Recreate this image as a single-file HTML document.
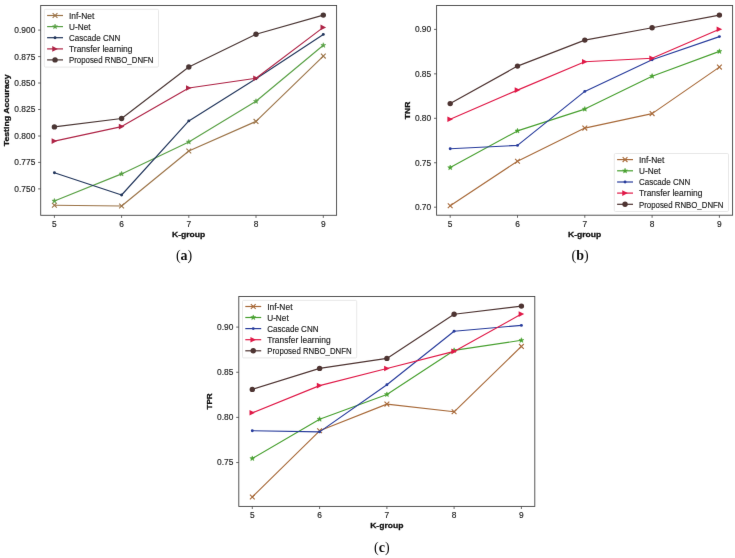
<!DOCTYPE html>
<html><head><meta charset="utf-8"><title>Figure</title>
<style>
html,body{margin:0;padding:0;background:#fff;width:735px;height:558px;overflow:hidden;}
svg{display:block;}
.tk{font-family:"Liberation Sans",sans-serif;font-size:8.4px;fill:#222;stroke:#222;stroke-width:0.15px;}
.lg{font-family:"Liberation Sans",sans-serif;font-size:8.8px;fill:#222;stroke:#222;stroke-width:0.15px;}
.lb{font-family:"Liberation Sans",sans-serif;font-size:8.0px;font-weight:bold;fill:#111;stroke:#111;stroke-width:0.3px;}
.cap{font-family:"Liberation Serif",serif;font-size:14px;fill:#111;}
</style></head><body>
<svg width="735" height="558" viewBox="0 0 735 558">
<defs><filter id="bl" x="0" y="0" width="735" height="558" filterUnits="userSpaceOnUse" color-interpolation-filters="sRGB"><feConvolveMatrix order="3" kernelMatrix="0.0035 0.0587 0.0035 0.0587 1.0000 0.0587 0.0035 0.0587 0.0035" edgeMode="duplicate" preserveAlpha="true"/></filter></defs>
<g filter="url(#bl)"><rect width="735" height="558" fill="#fff"/>
<g><polyline points="54.40,205.30 121.60,206.00 188.80,151.00 256.00,121.40 323.30,56.10" fill="none" stroke="#9c7448" stroke-width="1.15" stroke-linejoin="round"/><path d="M52.00 202.90L56.80 207.70M52.00 207.70L56.80 202.90" stroke="#9c7448" stroke-width="1.1" fill="none"/><path d="M119.20 203.60L124.00 208.40M119.20 208.40L124.00 203.60" stroke="#9c7448" stroke-width="1.1" fill="none"/><path d="M186.40 148.60L191.20 153.40M186.40 153.40L191.20 148.60" stroke="#9c7448" stroke-width="1.1" fill="none"/><path d="M253.60 119.00L258.40 123.80M253.60 123.80L258.40 119.00" stroke="#9c7448" stroke-width="1.1" fill="none"/><path d="M320.90 53.70L325.70 58.50M320.90 58.50L325.70 53.70" stroke="#9c7448" stroke-width="1.1" fill="none"/><polyline points="54.40,201.00 121.60,173.90 188.80,142.00 256.00,101.30 323.30,45.30" fill="none" stroke="#58a044" stroke-width="1.15" stroke-linejoin="round"/><polygon points="54.40,198.40 55.05,200.11 56.87,200.20 55.45,201.34 55.93,203.10 54.40,202.10 52.87,203.10 53.35,201.34 51.93,200.20 53.75,200.11" fill="#58a044" stroke="#58a044" stroke-width="0.5"/><polygon points="121.60,171.30 122.25,173.01 124.07,173.10 122.65,174.24 123.13,176.00 121.60,175.00 120.07,176.00 120.55,174.24 119.13,173.10 120.95,173.01" fill="#58a044" stroke="#58a044" stroke-width="0.5"/><polygon points="188.80,139.40 189.45,141.11 191.27,141.20 189.85,142.34 190.33,144.10 188.80,143.10 187.27,144.10 187.75,142.34 186.33,141.20 188.15,141.11" fill="#58a044" stroke="#58a044" stroke-width="0.5"/><polygon points="256.00,98.70 256.65,100.41 258.47,100.50 257.05,101.64 257.53,103.40 256.00,102.40 254.47,103.40 254.95,101.64 253.53,100.50 255.35,100.41" fill="#58a044" stroke="#58a044" stroke-width="0.5"/><polygon points="323.30,42.70 323.95,44.41 325.77,44.50 324.35,45.64 324.83,47.40 323.30,46.40 321.77,47.40 322.25,45.64 320.83,44.50 322.65,44.41" fill="#58a044" stroke="#58a044" stroke-width="0.5"/><polyline points="54.40,172.70 121.60,195.00 188.80,120.90 256.00,78.70 323.30,34.40" fill="none" stroke="#22365c" stroke-width="1.15" stroke-linejoin="round"/><circle cx="54.40" cy="172.70" r="1.45" fill="#22365c"/><circle cx="121.60" cy="195.00" r="1.45" fill="#22365c"/><circle cx="188.80" cy="120.90" r="1.45" fill="#22365c"/><circle cx="256.00" cy="78.70" r="1.45" fill="#22365c"/><circle cx="323.30" cy="34.40" r="1.45" fill="#22365c"/><polyline points="54.40,141.10 121.60,126.60 188.80,88.00 256.00,78.30 323.30,27.40" fill="none" stroke="#ae2446" stroke-width="1.15" stroke-linejoin="round"/><polygon points="57.20,141.10 51.60,138.30 51.60,143.90" fill="#ae2446"/><polygon points="124.40,126.60 118.80,123.80 118.80,129.40" fill="#ae2446"/><polygon points="191.60,88.00 186.00,85.20 186.00,90.80" fill="#ae2446"/><polygon points="258.80,78.30 253.20,75.50 253.20,81.10" fill="#ae2446"/><polygon points="326.10,27.40 320.50,24.60 320.50,30.20" fill="#ae2446"/><polyline points="54.40,126.90 121.60,118.50 188.80,67.00 256.00,34.20 323.30,15.10" fill="none" stroke="#4a3634" stroke-width="1.15" stroke-linejoin="round"/><circle cx="54.40" cy="126.90" r="2.7" fill="#4a3634"/><circle cx="121.60" cy="118.50" r="2.7" fill="#4a3634"/><circle cx="188.80" cy="67.00" r="2.7" fill="#4a3634"/><circle cx="256.00" cy="34.20" r="2.7" fill="#4a3634"/><circle cx="323.30" cy="15.10" r="2.7" fill="#4a3634"/><rect x="40.70" y="5.50" width="295.90" height="209.80" fill="none" stroke="#444" stroke-width="0.9"/><line x1="54.40" y1="215.30" x2="54.40" y2="217.90" stroke="#444" stroke-width="0.8"/><text x="54.40" y="226.50" class="tk" text-anchor="middle">5</text><line x1="121.60" y1="215.30" x2="121.60" y2="217.90" stroke="#444" stroke-width="0.8"/><text x="121.60" y="226.50" class="tk" text-anchor="middle">6</text><line x1="188.80" y1="215.30" x2="188.80" y2="217.90" stroke="#444" stroke-width="0.8"/><text x="188.80" y="226.50" class="tk" text-anchor="middle">7</text><line x1="256.00" y1="215.30" x2="256.00" y2="217.90" stroke="#444" stroke-width="0.8"/><text x="256.00" y="226.50" class="tk" text-anchor="middle">8</text><line x1="323.30" y1="215.30" x2="323.30" y2="217.90" stroke="#444" stroke-width="0.8"/><text x="323.30" y="226.50" class="tk" text-anchor="middle">9</text><line x1="38.10" y1="30.10" x2="40.70" y2="30.10" stroke="#444" stroke-width="0.8"/><text x="35.30" y="33.00" class="tk" text-anchor="end">0.900</text><line x1="38.10" y1="56.60" x2="40.70" y2="56.60" stroke="#444" stroke-width="0.8"/><text x="35.30" y="59.50" class="tk" text-anchor="end">0.875</text><line x1="38.10" y1="83.00" x2="40.70" y2="83.00" stroke="#444" stroke-width="0.8"/><text x="35.30" y="85.90" class="tk" text-anchor="end">0.850</text><line x1="38.10" y1="109.50" x2="40.70" y2="109.50" stroke="#444" stroke-width="0.8"/><text x="35.30" y="112.40" class="tk" text-anchor="end">0.825</text><line x1="38.10" y1="136.00" x2="40.70" y2="136.00" stroke="#444" stroke-width="0.8"/><text x="35.30" y="138.90" class="tk" text-anchor="end">0.800</text><line x1="38.10" y1="162.40" x2="40.70" y2="162.40" stroke="#444" stroke-width="0.8"/><text x="35.30" y="165.30" class="tk" text-anchor="end">0.775</text><line x1="38.10" y1="188.90" x2="40.70" y2="188.90" stroke="#444" stroke-width="0.8"/><text x="35.30" y="191.80" class="tk" text-anchor="end">0.750</text><text x="188.65" y="236.70" class="lb" text-anchor="middle" textLength="33.2" lengthAdjust="spacingAndGlyphs">K-group</text><text transform="translate(8.80,110.40) rotate(-90)" class="lb" text-anchor="middle" textLength="71.8" lengthAdjust="spacingAndGlyphs">Testing Accuracy</text><rect x="44.30" y="9.30" width="114.20" height="57.80" rx="1.2" fill="#fff" fill-opacity="0.8" stroke="#e2e2e2" stroke-width="0.8"/><line x1="47.10" y1="15.50" x2="63.00" y2="15.50" stroke="#9c7448" stroke-width="1.2"/><path d="M52.65 13.10L57.45 17.90M52.65 17.90L57.45 13.10" stroke="#9c7448" stroke-width="1.1" fill="none"/><text x="69.00" y="18.80" class="lg" textLength="25.30" lengthAdjust="spacingAndGlyphs">Inf-Net</text><line x1="47.10" y1="26.60" x2="63.00" y2="26.60" stroke="#58a044" stroke-width="1.2"/><polygon points="55.05,24.00 55.70,25.71 57.52,25.80 56.10,26.94 56.58,28.70 55.05,27.70 53.52,28.70 54.00,26.94 52.58,25.80 54.40,25.71" fill="#58a044" stroke="#58a044" stroke-width="0.5"/><text x="69.00" y="29.90" class="lg" textLength="21.50" lengthAdjust="spacingAndGlyphs">U-Net</text><line x1="47.10" y1="37.70" x2="63.00" y2="37.70" stroke="#22365c" stroke-width="1.2"/><circle cx="55.05" cy="37.70" r="1.45" fill="#22365c"/><text x="69.00" y="41.00" class="lg" textLength="51.30" lengthAdjust="spacingAndGlyphs">Cascade CNN</text><line x1="47.10" y1="48.90" x2="63.00" y2="48.90" stroke="#ae2446" stroke-width="1.2"/><polygon points="57.85,48.90 52.25,46.10 52.25,51.70" fill="#ae2446"/><text x="69.00" y="52.20" class="lg" textLength="63.40" lengthAdjust="spacingAndGlyphs">Transfer learning</text><line x1="47.10" y1="59.90" x2="63.00" y2="59.90" stroke="#4a3634" stroke-width="1.2"/><circle cx="55.05" cy="59.90" r="2.7" fill="#4a3634"/><text x="69.00" y="63.20" class="lg" textLength="84.50" lengthAdjust="spacingAndGlyphs">Proposed RNBO_DNFN</text><text x="184.10" y="259.80" class="cap" text-anchor="middle">(<tspan font-weight="bold">a</tspan>)</text></g>
<g><polyline points="450.20,205.80 517.50,161.20 584.80,128.10 652.10,113.60 719.40,67.10" fill="none" stroke="#a86a3a" stroke-width="1.15" stroke-linejoin="round"/><path d="M447.80 203.40L452.60 208.20M447.80 208.20L452.60 203.40" stroke="#a86a3a" stroke-width="1.1" fill="none"/><path d="M515.10 158.80L519.90 163.60M515.10 163.60L519.90 158.80" stroke="#a86a3a" stroke-width="1.1" fill="none"/><path d="M582.40 125.70L587.20 130.50M582.40 130.50L587.20 125.70" stroke="#a86a3a" stroke-width="1.1" fill="none"/><path d="M649.70 111.20L654.50 116.00M649.70 116.00L654.50 111.20" stroke="#a86a3a" stroke-width="1.1" fill="none"/><path d="M717.00 64.70L721.80 69.50M717.00 69.50L721.80 64.70" stroke="#a86a3a" stroke-width="1.1" fill="none"/><polyline points="450.20,167.60 517.50,130.90 584.80,109.10 652.10,76.20 719.40,51.40" fill="none" stroke="#48a030" stroke-width="1.15" stroke-linejoin="round"/><polygon points="450.20,165.00 450.85,166.71 452.67,166.80 451.25,167.94 451.73,169.70 450.20,168.70 448.67,169.70 449.15,167.94 447.73,166.80 449.55,166.71" fill="#48a030" stroke="#48a030" stroke-width="0.5"/><polygon points="517.50,128.30 518.15,130.01 519.97,130.10 518.55,131.24 519.03,133.00 517.50,132.00 515.97,133.00 516.45,131.24 515.03,130.10 516.85,130.01" fill="#48a030" stroke="#48a030" stroke-width="0.5"/><polygon points="584.80,106.50 585.45,108.21 587.27,108.30 585.85,109.44 586.33,111.20 584.80,110.20 583.27,111.20 583.75,109.44 582.33,108.30 584.15,108.21" fill="#48a030" stroke="#48a030" stroke-width="0.5"/><polygon points="652.10,73.60 652.75,75.31 654.57,75.40 653.15,76.54 653.63,78.30 652.10,77.30 650.57,78.30 651.05,76.54 649.63,75.40 651.45,75.31" fill="#48a030" stroke="#48a030" stroke-width="0.5"/><polygon points="719.40,48.80 720.05,50.51 721.87,50.60 720.45,51.74 720.93,53.50 719.40,52.50 717.87,53.50 718.35,51.74 716.93,50.60 718.75,50.51" fill="#48a030" stroke="#48a030" stroke-width="0.5"/><polyline points="450.20,148.80 517.50,145.40 584.80,91.40 652.10,59.70 719.40,36.60" fill="none" stroke="#283c9c" stroke-width="1.15" stroke-linejoin="round"/><circle cx="450.20" cy="148.80" r="1.45" fill="#283c9c"/><circle cx="517.50" cy="145.40" r="1.45" fill="#283c9c"/><circle cx="584.80" cy="91.40" r="1.45" fill="#283c9c"/><circle cx="652.10" cy="59.70" r="1.45" fill="#283c9c"/><circle cx="719.40" cy="36.60" r="1.45" fill="#283c9c"/><polyline points="450.20,119.30 517.50,90.10 584.80,61.70 652.10,58.30 719.40,29.20" fill="none" stroke="#e01a48" stroke-width="1.15" stroke-linejoin="round"/><polygon points="453.00,119.30 447.40,116.50 447.40,122.10" fill="#e01a48"/><polygon points="520.30,90.10 514.70,87.30 514.70,92.90" fill="#e01a48"/><polygon points="587.60,61.70 582.00,58.90 582.00,64.50" fill="#e01a48"/><polygon points="654.90,58.30 649.30,55.50 649.30,61.10" fill="#e01a48"/><polygon points="722.20,29.20 716.60,26.40 716.60,32.00" fill="#e01a48"/><polyline points="450.20,103.60 517.50,66.10 584.80,40.10 652.10,27.80 719.40,15.10" fill="none" stroke="#4e3432" stroke-width="1.15" stroke-linejoin="round"/><circle cx="450.20" cy="103.60" r="2.7" fill="#4e3432"/><circle cx="517.50" cy="66.10" r="2.7" fill="#4e3432"/><circle cx="584.80" cy="40.10" r="2.7" fill="#4e3432"/><circle cx="652.10" cy="27.80" r="2.7" fill="#4e3432"/><circle cx="719.40" cy="15.10" r="2.7" fill="#4e3432"/><rect x="436.60" y="5.50" width="296.00" height="209.70" fill="none" stroke="#444" stroke-width="0.9"/><line x1="450.20" y1="215.20" x2="450.20" y2="217.80" stroke="#444" stroke-width="0.8"/><text x="450.20" y="226.50" class="tk" text-anchor="middle">5</text><line x1="517.50" y1="215.20" x2="517.50" y2="217.80" stroke="#444" stroke-width="0.8"/><text x="517.50" y="226.50" class="tk" text-anchor="middle">6</text><line x1="584.80" y1="215.20" x2="584.80" y2="217.80" stroke="#444" stroke-width="0.8"/><text x="584.80" y="226.50" class="tk" text-anchor="middle">7</text><line x1="652.10" y1="215.20" x2="652.10" y2="217.80" stroke="#444" stroke-width="0.8"/><text x="652.10" y="226.50" class="tk" text-anchor="middle">8</text><line x1="719.40" y1="215.20" x2="719.40" y2="217.80" stroke="#444" stroke-width="0.8"/><text x="719.40" y="226.50" class="tk" text-anchor="middle">9</text><line x1="434.00" y1="29.40" x2="436.60" y2="29.40" stroke="#444" stroke-width="0.8"/><text x="431.20" y="32.30" class="tk" text-anchor="end">0.90</text><line x1="434.00" y1="73.85" x2="436.60" y2="73.85" stroke="#444" stroke-width="0.8"/><text x="431.20" y="76.75" class="tk" text-anchor="end">0.85</text><line x1="434.00" y1="118.30" x2="436.60" y2="118.30" stroke="#444" stroke-width="0.8"/><text x="431.20" y="121.20" class="tk" text-anchor="end">0.80</text><line x1="434.00" y1="162.75" x2="436.60" y2="162.75" stroke="#444" stroke-width="0.8"/><text x="431.20" y="165.65" class="tk" text-anchor="end">0.75</text><line x1="434.00" y1="207.20" x2="436.60" y2="207.20" stroke="#444" stroke-width="0.8"/><text x="431.20" y="210.10" class="tk" text-anchor="end">0.70</text><text x="584.60" y="236.90" class="lb" text-anchor="middle" textLength="33.2" lengthAdjust="spacingAndGlyphs">K-group</text><text transform="translate(410.20,110.35) rotate(-90)" class="lb" text-anchor="middle" textLength="17.6" lengthAdjust="spacingAndGlyphs">TNR</text><rect x="614.30" y="153.50" width="114.20" height="58.00" rx="1.2" fill="#fff" fill-opacity="0.8" stroke="#e2e2e2" stroke-width="0.8"/><line x1="617.10" y1="159.60" x2="633.00" y2="159.60" stroke="#a86a3a" stroke-width="1.2"/><path d="M622.65 157.20L627.45 162.00M622.65 162.00L627.45 157.20" stroke="#a86a3a" stroke-width="1.1" fill="none"/><text x="639.00" y="162.90" class="lg" textLength="25.30" lengthAdjust="spacingAndGlyphs">Inf-Net</text><line x1="617.10" y1="170.80" x2="633.00" y2="170.80" stroke="#48a030" stroke-width="1.2"/><polygon points="625.05,168.20 625.70,169.91 627.52,170.00 626.10,171.14 626.58,172.90 625.05,171.90 623.52,172.90 624.00,171.14 622.58,170.00 624.40,169.91" fill="#48a030" stroke="#48a030" stroke-width="0.5"/><text x="639.00" y="174.10" class="lg" textLength="21.50" lengthAdjust="spacingAndGlyphs">U-Net</text><line x1="617.10" y1="182.00" x2="633.00" y2="182.00" stroke="#283c9c" stroke-width="1.2"/><circle cx="625.05" cy="182.00" r="1.45" fill="#283c9c"/><text x="639.00" y="185.30" class="lg" textLength="51.30" lengthAdjust="spacingAndGlyphs">Cascade CNN</text><line x1="617.10" y1="193.10" x2="633.00" y2="193.10" stroke="#e01a48" stroke-width="1.2"/><polygon points="627.85,193.10 622.25,190.30 622.25,195.90" fill="#e01a48"/><text x="639.00" y="196.40" class="lg" textLength="63.40" lengthAdjust="spacingAndGlyphs">Transfer learning</text><line x1="617.10" y1="204.30" x2="633.00" y2="204.30" stroke="#4e3432" stroke-width="1.2"/><circle cx="625.05" cy="204.30" r="2.7" fill="#4e3432"/><text x="639.00" y="207.60" class="lg" textLength="84.50" lengthAdjust="spacingAndGlyphs">Proposed RNBO_DNFN</text><text x="580.10" y="260.00" class="cap" text-anchor="middle">(<tspan font-weight="bold">b</tspan>)</text></g>
<g><polyline points="252.30,497.00 319.60,430.80 386.90,404.10 454.10,411.80 521.40,346.40" fill="none" stroke="#a86a3a" stroke-width="1.15" stroke-linejoin="round"/><path d="M249.90 494.60L254.70 499.40M249.90 499.40L254.70 494.60" stroke="#a86a3a" stroke-width="1.1" fill="none"/><path d="M317.20 428.40L322.00 433.20M317.20 433.20L322.00 428.40" stroke="#a86a3a" stroke-width="1.1" fill="none"/><path d="M384.50 401.70L389.30 406.50M384.50 406.50L389.30 401.70" stroke="#a86a3a" stroke-width="1.1" fill="none"/><path d="M451.70 409.40L456.50 414.20M451.70 414.20L456.50 409.40" stroke="#a86a3a" stroke-width="1.1" fill="none"/><path d="M519.00 344.00L523.80 348.80M519.00 348.80L523.80 344.00" stroke="#a86a3a" stroke-width="1.1" fill="none"/><polyline points="252.30,458.50 319.60,419.20 386.90,394.50 454.10,350.40 521.40,340.30" fill="none" stroke="#48a030" stroke-width="1.15" stroke-linejoin="round"/><polygon points="252.30,455.90 252.95,457.61 254.77,457.70 253.35,458.84 253.83,460.60 252.30,459.60 250.77,460.60 251.25,458.84 249.83,457.70 251.65,457.61" fill="#48a030" stroke="#48a030" stroke-width="0.5"/><polygon points="319.60,416.60 320.25,418.31 322.07,418.40 320.65,419.54 321.13,421.30 319.60,420.30 318.07,421.30 318.55,419.54 317.13,418.40 318.95,418.31" fill="#48a030" stroke="#48a030" stroke-width="0.5"/><polygon points="386.90,391.90 387.55,393.61 389.37,393.70 387.95,394.84 388.43,396.60 386.90,395.60 385.37,396.60 385.85,394.84 384.43,393.70 386.25,393.61" fill="#48a030" stroke="#48a030" stroke-width="0.5"/><polygon points="454.10,347.80 454.75,349.51 456.57,349.60 455.15,350.74 455.63,352.50 454.10,351.50 452.57,352.50 453.05,350.74 451.63,349.60 453.45,349.51" fill="#48a030" stroke="#48a030" stroke-width="0.5"/><polygon points="521.40,337.70 522.05,339.41 523.87,339.50 522.45,340.64 522.93,342.40 521.40,341.40 519.87,342.40 520.35,340.64 518.93,339.50 520.75,339.41" fill="#48a030" stroke="#48a030" stroke-width="0.5"/><polyline points="252.30,430.70 319.60,431.90 386.90,384.70 454.10,331.20 521.40,325.40" fill="none" stroke="#283c9c" stroke-width="1.15" stroke-linejoin="round"/><circle cx="252.30" cy="430.70" r="1.45" fill="#283c9c"/><circle cx="319.60" cy="431.90" r="1.45" fill="#283c9c"/><circle cx="386.90" cy="384.70" r="1.45" fill="#283c9c"/><circle cx="454.10" cy="331.20" r="1.45" fill="#283c9c"/><circle cx="521.40" cy="325.40" r="1.45" fill="#283c9c"/><polyline points="252.30,412.80 319.60,385.60 386.90,368.50 454.10,351.40 521.40,314.10" fill="none" stroke="#e01a48" stroke-width="1.15" stroke-linejoin="round"/><polygon points="255.10,412.80 249.50,410.00 249.50,415.60" fill="#e01a48"/><polygon points="322.40,385.60 316.80,382.80 316.80,388.40" fill="#e01a48"/><polygon points="389.70,368.50 384.10,365.70 384.10,371.30" fill="#e01a48"/><polygon points="456.90,351.40 451.30,348.60 451.30,354.20" fill="#e01a48"/><polygon points="524.20,314.10 518.60,311.30 518.60,316.90" fill="#e01a48"/><polyline points="252.30,389.40 319.60,368.40 386.90,358.40 454.10,314.30 521.40,306.10" fill="none" stroke="#4e3432" stroke-width="1.15" stroke-linejoin="round"/><circle cx="252.30" cy="389.40" r="2.7" fill="#4e3432"/><circle cx="319.60" cy="368.40" r="2.7" fill="#4e3432"/><circle cx="386.90" cy="358.40" r="2.7" fill="#4e3432"/><circle cx="454.10" cy="314.30" r="2.7" fill="#4e3432"/><circle cx="521.40" cy="306.10" r="2.7" fill="#4e3432"/><rect x="238.80" y="296.50" width="296.00" height="209.90" fill="none" stroke="#444" stroke-width="0.9"/><line x1="252.30" y1="506.40" x2="252.30" y2="509.00" stroke="#444" stroke-width="0.8"/><text x="252.30" y="517.70" class="tk" text-anchor="middle">5</text><line x1="319.60" y1="506.40" x2="319.60" y2="509.00" stroke="#444" stroke-width="0.8"/><text x="319.60" y="517.70" class="tk" text-anchor="middle">6</text><line x1="386.90" y1="506.40" x2="386.90" y2="509.00" stroke="#444" stroke-width="0.8"/><text x="386.90" y="517.70" class="tk" text-anchor="middle">7</text><line x1="454.10" y1="506.40" x2="454.10" y2="509.00" stroke="#444" stroke-width="0.8"/><text x="454.10" y="517.70" class="tk" text-anchor="middle">8</text><line x1="521.40" y1="506.40" x2="521.40" y2="509.00" stroke="#444" stroke-width="0.8"/><text x="521.40" y="517.70" class="tk" text-anchor="middle">9</text><line x1="236.20" y1="327.10" x2="238.80" y2="327.10" stroke="#444" stroke-width="0.8"/><text x="233.40" y="330.00" class="tk" text-anchor="end">0.90</text><line x1="236.20" y1="372.25" x2="238.80" y2="372.25" stroke="#444" stroke-width="0.8"/><text x="233.40" y="375.15" class="tk" text-anchor="end">0.85</text><line x1="236.20" y1="417.40" x2="238.80" y2="417.40" stroke="#444" stroke-width="0.8"/><text x="233.40" y="420.30" class="tk" text-anchor="end">0.80</text><line x1="236.20" y1="462.55" x2="238.80" y2="462.55" stroke="#444" stroke-width="0.8"/><text x="233.40" y="465.45" class="tk" text-anchor="end">0.75</text><text x="386.80" y="528.10" class="lb" text-anchor="middle" textLength="33.2" lengthAdjust="spacingAndGlyphs">K-group</text><text transform="translate(212.00,401.45) rotate(-90)" class="lb" text-anchor="middle" textLength="16.3" lengthAdjust="spacingAndGlyphs">TPR</text><rect x="242.50" y="300.40" width="114.20" height="57.50" rx="1.2" fill="#fff" fill-opacity="0.8" stroke="#e2e2e2" stroke-width="0.8"/><line x1="245.30" y1="306.50" x2="261.20" y2="306.50" stroke="#a86a3a" stroke-width="1.2"/><path d="M250.85 304.10L255.65 308.90M250.85 308.90L255.65 304.10" stroke="#a86a3a" stroke-width="1.1" fill="none"/><text x="267.20" y="309.80" class="lg" textLength="25.30" lengthAdjust="spacingAndGlyphs">Inf-Net</text><line x1="245.30" y1="317.50" x2="261.20" y2="317.50" stroke="#48a030" stroke-width="1.2"/><polygon points="253.25,314.90 253.90,316.61 255.72,316.70 254.30,317.84 254.78,319.60 253.25,318.60 251.72,319.60 252.20,317.84 250.78,316.70 252.60,316.61" fill="#48a030" stroke="#48a030" stroke-width="0.5"/><text x="267.20" y="320.80" class="lg" textLength="21.50" lengthAdjust="spacingAndGlyphs">U-Net</text><line x1="245.30" y1="328.60" x2="261.20" y2="328.60" stroke="#283c9c" stroke-width="1.2"/><circle cx="253.25" cy="328.60" r="1.45" fill="#283c9c"/><text x="267.20" y="331.90" class="lg" textLength="51.30" lengthAdjust="spacingAndGlyphs">Cascade CNN</text><line x1="245.30" y1="339.70" x2="261.20" y2="339.70" stroke="#e01a48" stroke-width="1.2"/><polygon points="256.05,339.70 250.45,336.90 250.45,342.50" fill="#e01a48"/><text x="267.20" y="343.00" class="lg" textLength="63.40" lengthAdjust="spacingAndGlyphs">Transfer learning</text><line x1="245.30" y1="350.80" x2="261.20" y2="350.80" stroke="#4e3432" stroke-width="1.2"/><circle cx="253.25" cy="350.80" r="2.7" fill="#4e3432"/><text x="267.20" y="354.10" class="lg" textLength="84.50" lengthAdjust="spacingAndGlyphs">Proposed RNBO_DNFN</text><text x="381.85" y="551.50" class="cap" text-anchor="middle">(<tspan font-weight="bold">c</tspan>)</text></g>
</g></svg>
</body></html>
